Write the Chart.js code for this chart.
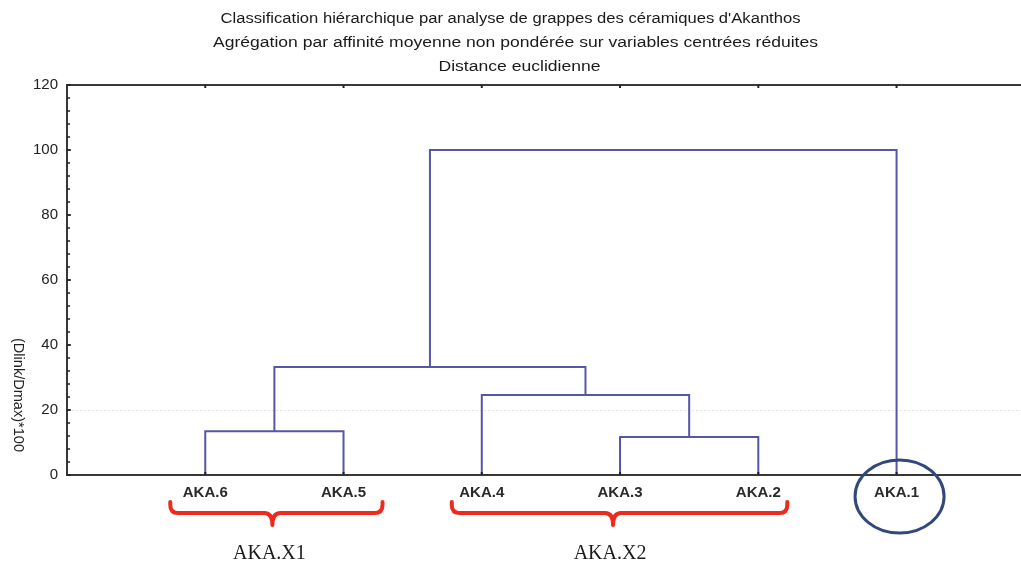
<!DOCTYPE html>
<html><head><meta charset="utf-8">
<script src="https://cdn.jsdelivr.net/npm/chart.js@4.4.0/dist/chart.umd.min.js"></script>
<style>html,body{margin:0;padding:0;background:#fff;}#wrap{width:1021px;height:562px;position:relative;}</style>
</head><body><div id="wrap"><canvas id="c"></canvas></div>
<script>
const titleLines = [
  "Classification hiérarchique par analyse de grappes des céramiques d'Akanthos",
  "Agrégation par affinité moyenne non pondérée sur variables centrées réduites",
  "Distance euclidienne"
];
const leafLabels = ['AKA.6','AKA.5','AKA.4','AKA.3','AKA.2','AKA.1'];
// linkage: node ids 0-5 are leaves, 6.. are merges in order
const mergeLeft = [0, 3, 2, 6, 9];
const mergeRight = [1, 4, 7, 8, 5];
const mergeHeight = [13.5, 11.7, 24.6, 33.2, 100];
const yTicks = [0, 20, 40, 60, 80, 100, 120];
const yTitle = '(Dlink/Dmax)*100';
const groupNames = ['AKA.X1', 'AKA.X2'];
const groupMembers = [[0, 1], [2, 3, 4]];
const outlierLeaf = 5;

const nodeX = leafLabels.map((_, i) => i + 1);
const nodeH = leafLabels.map(() => 0);
mergeHeight.forEach((h, k) => {
  nodeX.push((nodeX[mergeLeft[k]] + nodeX[mergeRight[k]]) / 2);
  nodeH.push(h);
});
const datasets = mergeHeight.map((h, k) => {
  const a = mergeLeft[k], b = mergeRight[k];
  return {
    data: [{x: nodeX[a], y: nodeH[a]}, {x: nodeX[a], y: h}, {x: nodeX[b], y: h}, {x: nodeX[b], y: nodeH[b]}],
    showLine: true, borderColor: '#5656a8', borderWidth: 2, pointRadius: 0, tension: 0, fill: false,
    borderJoinStyle: 'miter', clip: false
  };
});

const LINE = '#3a3835';
const titleWidths = [580, 605, 162];
function fitText(ctx, txt, x, y, target) {
  const w = ctx.measureText(txt).width;
  ctx.save();
  ctx.translate(x, y);
  ctx.scale(target / w, 1);
  ctx.textAlign = 'center';
  ctx.fillText(txt, 0, 0);
  ctx.restore();
}

const deco = {
  id: 'deco',
  afterDraw(chart) {
    const {ctx, chartArea: ca, scales: {x, y}} = chart;
    ctx.save();
    // top frame line
    ctx.strokeStyle = LINE; ctx.lineWidth = 2;
    ctx.beginPath(); ctx.moveTo(ca.left - 1, ca.top); ctx.lineTo(ca.right, ca.top); ctx.stroke();
    // ticks on top & bottom at leaves
    ctx.lineWidth = 2; ctx.strokeStyle = '#222';
    nodeX.slice(0, leafLabels.length).forEach(v => {
      const px = x.getPixelForValue(v);
      ctx.beginPath(); ctx.moveTo(px, ca.top); ctx.lineTo(px, ca.top + 3); ctx.stroke();
      ctx.beginPath(); ctx.moveTo(px, ca.bottom); ctx.lineTo(px, ca.bottom - 3); ctx.stroke();
    });
    // y minor ticks inside
    ctx.lineWidth = 1.5;
    for (let v = 4; v < 120; v += 4) {
      const py = y.getPixelForValue(v);
      ctx.beginPath(); ctx.moveTo(ca.left, py); ctx.lineTo(ca.left + 3, py); ctx.stroke();
    }
    yTicks.forEach(v => {
      const py = y.getPixelForValue(v);
      ctx.beginPath(); ctx.moveTo(ca.left, py); ctx.lineTo(ca.left + 4, py); ctx.stroke();
    });
    // titles
    ctx.fillStyle = '#1a1a1a';
    ctx.textBaseline = 'middle';
    const cx = chart.width / 2;
    ctx.font = '14px "Liberation Sans", Arial, sans-serif';
    titleLines.forEach((t, i) => {
      fitText(ctx, t, cx + (i === 1 ? 5 : (i === 2 ? 9 : 0)), 19 + i * 24, titleWidths[i]);
    });
    // y title
    ctx.save();
    ctx.translate(18, 395);
    ctx.rotate(Math.PI / 2);
    ctx.font = '14px "Liberation Sans", Arial, sans-serif';
    ctx.fillStyle = '#222';
    fitText(ctx, yTitle, 0, 0, 114);
    ctx.restore();
    // braces
    const braceTop = ca.bottom + 27, braceLine = ca.bottom + 38, braceTip = ca.bottom + 50;
    const pads = [[35, 39, -2], [30, 29, -7]];
    ctx.strokeStyle = '#ee2a1e'; ctx.lineWidth = 4; ctx.lineCap = 'round'; ctx.lineJoin = 'round';
    groupMembers.forEach((m, g) => {
      const x1 = x.getPixelForValue(nodeX[m[0]]) - pads[g][0];
      const x2 = x.getPixelForValue(nodeX[m[m.length - 1]]) + pads[g][1];
      const xc = (x.getPixelForValue(nodeX[m[0]]) + x.getPixelForValue(nodeX[m[m.length - 1]])) / 2 + pads[g][2];
      const r = 8;
      ctx.beginPath();
      ctx.moveTo(x1, braceTop);
      ctx.lineTo(x1, braceLine - r);
      ctx.quadraticCurveTo(x1, braceLine, x1 + r, braceLine);
      ctx.lineTo(xc - r, braceLine);
      ctx.quadraticCurveTo(xc, braceLine, xc, braceTip);
      ctx.quadraticCurveTo(xc, braceLine, xc + r, braceLine);
      ctx.lineTo(x2 - r, braceLine);
      ctx.quadraticCurveTo(x2, braceLine, x2, braceLine - r);
      ctx.lineTo(x2, braceTop);
      ctx.stroke();
      ctx.fillStyle = '#1a1a1a';
      ctx.font = '20px "Liberation Serif", "Times New Roman", serif';
      ctx.textAlign = 'center'; ctx.textBaseline = 'alphabetic';
      ctx.fillText(groupNames[g], xc - 3, 559);
    });
    // circle around outlier
    const ox = x.getPixelForValue(nodeX[outlierLeaf]) + 3;
    ctx.strokeStyle = '#33487a'; ctx.lineWidth = 3;
    ctx.beginPath(); ctx.ellipse(ox, ca.bottom + 21.5, 44.5, 36.5, 0, 0, Math.PI * 2); ctx.stroke();
    ctx.restore();
  }
};

new Chart(document.getElementById('c'), {
  type: 'scatter',
  data: {datasets},
  options: {
    responsive: true, maintainAspectRatio: false, animation: false,
    layout: {padding: {top: 85, right: 0, left: 0, bottom: 0}},
    plugins: {legend: {display: false}, title: {display: false}, tooltip: {enabled: false}},
    scales: {
      x: {
        type: 'linear', min: 0, max: 6.9,
        afterFit(s) { s.height = 87; },
        afterBuildTicks(s) { s.ticks = leafLabels.map((_, i) => ({value: i + 1})); },
        ticks: {
          autoSkip: false, maxRotation: 0, padding: 9, color: '#2a2a2a',
          font: {family: '"Liberation Sans", Arial, sans-serif', size: 15, weight: 'bold'},
          callback: v => leafLabels[v - 1] || ''
        },
        grid: {drawOnChartArea: false, drawTicks: false},
        border: {display: true, color: LINE, width: 2}
      },
      y: {
        min: 0, max: 120,
        afterFit(s) { s.width = 67; },
        afterBuildTicks(s) { s.ticks = yTicks.map(v => ({value: v})); },
        ticks: {
          padding: 9, color: '#222',
          font: {family: '"Liberation Sans", Arial, sans-serif', size: 15}
        },
        grid: {drawTicks: false, color: c => c.tick && c.tick.value === 20 ? '#e4e4e4' : 'rgba(0,0,0,0)', lineWidth: 1},
        border: {display: true, color: LINE, width: 2, dash: [2, 2]}
      }
    }
  },
  plugins: [deco]
});
</script>
</body></html>
